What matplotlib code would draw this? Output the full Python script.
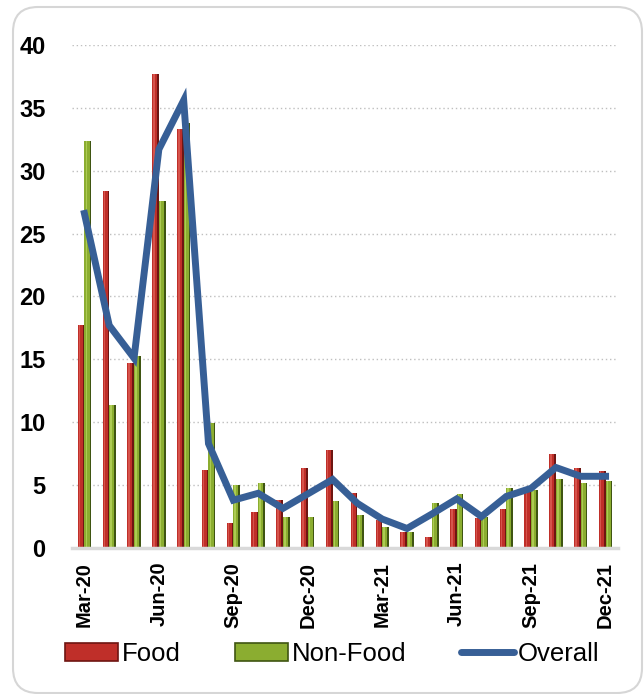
"""Monthly inflation: food vs non-food bars with overall line."""

import matplotlib

matplotlib.use("Agg")
import matplotlib.pyplot as plt
from matplotlib.lines import Line2D
from matplotlib.patches import FancyBboxPatch, Patch
import numpy as np

months = [
    "Mar-20", "Apr-20", "May-20", "Jun-20", "Jul-20", "Aug-20", "Sep-20", "Oct-20",
    "Nov-20", "Dec-20", "Jan-21", "Feb-21", "Mar-21", "Apr-21", "May-21", "Jun-21",
    "Jul-21", "Aug-21", "Sep-21", "Oct-21", "Nov-21", "Dec-21",
]
food = [17.7, 28.4, 14.7, 37.7, 33.3, 6.2, 2.0, 2.9, 3.8, 6.4, 7.8, 4.35,
        2.2, 1.3, 0.85, 3.1, 2.4, 3.1, 4.5, 7.45, 6.4, 6.1]
non_food = [32.4, 11.4, 15.3, 27.6, 33.8, 9.9, 5.0, 5.2, 2.5, 2.5, 3.7, 2.6,
            1.7, 1.3, 3.6, 4.3, 2.5, 4.8, 4.6, 5.45, 5.15, 5.3]
overall = [26.6, 17.7, 15.1, 31.7, 35.6, 8.3, 3.8, 4.35, 3.15, 4.3, 5.45, 3.55,
           2.3, 1.55, 2.7, 3.9, 2.5, 4.1, 4.75, 6.4, 5.7, 5.7]
y_ticks = [0, 5, 10, 15, 20, 25, 30, 35, 40]

RED = ("#6e1512", "#bf2f29", "#e0645c")
GREEN = ("#3f5512", "#8bad30", "#bcd963")
BLUE = "#375f96"


def bevel_bars(ax, xs, vals, width, colors):
    """Draw bars with a dark right edge and a light left stripe."""
    dark, main, light = colors
    ax.bar(xs, vals, width, color=dark, zorder=2)
    ax.bar(xs - width * 0.12, vals, width * 0.76, color=main, zorder=2)
    ax.bar(xs - width * 0.22, vals, width * 0.22, color=light, zorder=2, alpha=0.7)


fig = plt.figure(figsize=(6.44, 6.94), dpi=100)
ax = fig.add_axes([0.1118, 0.2104, 0.8478, 0.7248])

x = np.arange(len(months))
w = 0.27
bevel_bars(ax, x - w / 2, np.array(food), w, RED)
bevel_bars(ax, x + w / 2, np.array(non_food), w, GREEN)
ax.plot(x, overall, color=BLUE, lw=5, solid_joinstyle="miter", zorder=3)

ax.set_xlim(-0.5, len(months) - 0.5)
ax.set_ylim(0, 40)
ax.set_yticks(y_ticks)
ax.set_yticklabels([str(v) for v in y_ticks], fontsize=17, fontweight="bold",
                   family="Liberation Sans")
tick_idx = list(range(0, len(months), 3))
ax.set_xticks(tick_idx)
ax.set_xticklabels([months[i] for i in tick_idx], rotation=90, fontsize=14.5,
                   fontweight="bold", family="Liberation Sans")
ax.tick_params(axis="y", length=0, pad=19)
ax.tick_params(axis="x", length=0, pad=10)

for side in ("top", "right", "left"):
    ax.spines[side].set_visible(False)
ax.spines["bottom"].set_color("#d9d9d9")
ax.spines["bottom"].set_linewidth(2.5)
ax.yaxis.grid(True, color="#bfbfbf", linestyle=(0, (1, 2)), linewidth=1)
ax.set_axisbelow(True)

handles = [
    Patch(facecolor=RED[1], edgecolor=RED[0], linewidth=1.2, label="Food"),
    Patch(facecolor=GREEN[1], edgecolor=GREEN[0], linewidth=1.2, label="Non-Food"),
    Line2D([0], [0], color=BLUE, lw=5, solid_capstyle="round", label="Overall"),
]
fig.legend(handles=handles, loc="center", bbox_to_anchor=(0.516, 0.058), ncol=3,
           frameon=False, prop={"family": "Liberation Sans", "size": 18.5},
           handlelength=2.05, handleheight=0.7, handletextpad=0.18,
           columnspacing=2.1)

# rounded frame around the whole chart
frame = FancyBboxPatch((0.13, 0.01), 6.29, 6.86,
                       boxstyle="round,pad=0,rounding_size=0.25",
                       transform=fig.dpi_scale_trans, facecolor="none",
                       edgecolor="#d6d6d6", linewidth=1.5)
fig.patches.append(frame)

fig.savefig("out.png", dpi=100)
